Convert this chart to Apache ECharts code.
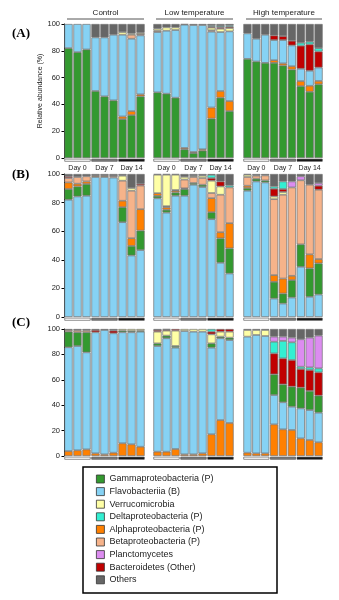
<!DOCTYPE html>
<html>
<head>
<meta charset="utf-8">
<script src="https://cdn.jsdelivr.net/npm/echarts/dist/echarts.min.js"></script>
<style>
  html, body { margin: 0; padding: 0; background: #fff; }
  #chart { width: 339px; height: 600px; }
</style>
</head>
<body>
<div id="chart"></div>
<script>
// Treatments, sampling days and replicate samples (3 per day)
const treatments = ['Control', 'Low temperature', 'High temperature'];
const days = ['Day 0', 'Day 7', 'Day 14'];
const samples = ['D0-1', 'D0-2', 'D0-3', 'D7-1', 'D7-2', 'D7-3', 'D14-1', 'D14-2', 'D14-3'];

const taxa = [
  'Gammaproteobacteria (P)', 'Flavobacteriia (B)', 'Verrucomicrobia',
  'Deltaproteobacteria (P)', 'Alphaproteobacteria (P)', 'Betaproteobacteria (P)',
  'Planctomycetes', 'Bacteroidetes (Other)', 'Others'
];

// Relative abundance (%), 27 samples per array: Control x9, Low temperature x9, High temperature x9
// Panel (A)
const gammaA   = [82, 79, 81, 50, 46, 43, 29, 32, 46,   49, 48, 45, 6.5, 3.7, 5.5, 29.4, 45, 35,   74, 72, 71, 71, 69, 66, 53.6, 49.4, 55];
const flavoA   = [18, 21, 19, 40, 44, 49, 61, 54, 44,   45, 47, 50.5, 92, 94.7, 92.7, 56.6, 44, 52,   19, 17, 21, 15, 17.4, 15.5, 9.2, 11.2, 10];
const verrucoA = [0, 0, 0, 0, 0, 0, 2, 1, 1,            1.5, 2.5, 2, 0, 0, 0, 2, 2.5, 2.5,          0, 0, 0, 0, 0, 0, 0, 0, 0];
const deltaA   = [0, 0, 0, 0, 0, 0, 0, 0, 0,            0, 0, 0, 0, 0, 0, 0.8, 1, 1,                0, 0, 0, 0, 0, 0, 2.2, 2, 2.5];
const alphaA   = [0, 0, 0, 0, 0, 0, 2, 3, 1.5,          0, 0, 0, 1, 0.8, 1, 8.3, 5, 7.5,            0, 0, 0, 2, 1.6, 2.5, 3.8, 4.5, 2.5];
const betaA    = [0, 0, 0, 0, 0, 0, 0, 3, 1,            1, 0, 0, 0, 0, 0, 1, 0, 0,                  0, 0, 0, 0, 0, 0, 0, 0, 0];
const planctA  = [0, 0, 0, 0, 0, 0, 0, 0, 0,            0, 0, 0, 0, 0, 0, 0, 0, 0,                  0, 0, 0, 0, 0, 0, 0, 0, 0];
const bactA    = [0, 0, 0, 0, 0, 0, 0, 0, 0,            0, 0, 0, 0, 0, 0, 0.8, 1, 1,                0, 0, 0, 3.5, 3, 3.5, 17.2, 19.7, 12];
const othersA  = [0, 0, 0, 10, 10, 8, 6, 7, 6.5,        3.5, 2.5, 2.5, 0.5, 0.8, 0.8, 1.1, 1.5, 1,  7, 11, 8, 8.5, 9, 12.5, 14, 13.2, 18];

// Panel (B)
const gammaB   = [7.5, 7, 8.2, 0, 0, 0, 10.5, 6.7, 13.6,     1.7, 2, 2.3, 4.7, 1.2, 1.6, 4.9, 17.1, 17.6,   1.9, 1.9, 1.4, 11.7, 7, 12.2, 15.7, 19.9, 21.8];
const flavoB   = [82, 84.3, 84.8, 97.9, 97.9, 97.5, 66.3, 43, 46.8,   83, 73, 84.8, 84.8, 92.5, 90.9, 68.4, 37.9, 30.4,   88.3, 94.8, 94.1, 12.9, 9.4, 13.6, 35.1, 14.1, 15.7];
const verrucoB = [0, 0, 0, 0, 0, 0, 3.5, 1.9, 0,          12.9, 22, 10.7, 1.9, 0.8, 1.6, 8.6, 5.8, 0,    1.6, 0, 0, 1.9, 1.9, 0, 0, 0, 0];
const deltaB   = [0, 0, 0, 0, 0, 0, 0, 0, 0,              0, 0, 0, 0, 0, 0, 2.2, 0, 1.4,                 0, 0, 0, 1.6, 5.3, 0, 0, 0, 0];
const alphaB   = [4.6, 1.9, 1.8, 0.8, 0.8, 0, 4.5, 5.4, 15,   1.9, 1.7, 1.2, 0.5, 0, 0, 9.8, 4.3, 17.6,    1.6, 0, 0, 4.7, 10.5, 3, 0, 9.8, 3];
const betaB    = [3.1, 4.7, 3.6, 0, 0, 1, 14, 33.2, 16.5,  0, 0.8, 0.5, 6.1, 4.2, 4.7, 3.6, 26.2, 25,     6.1, 2.1, 3.5, 53.1, 58.6, 61.8, 44.8, 48.7, 48.5];
const planctB  = [0, 0, 0, 0, 0, 0, 0, 0, 0,              0, 0, 0, 0, 0, 0, 0, 0, 0,                     0, 0, 0, 0, 0, 4.2, 2.8, 0, 1.9];
const bactB    = [1.2, 0, 0, 0, 0, 0, 0, 0, 1.2,          0, 0, 0, 0, 0, 0, 1.9, 3.5, 0,                 0, 0, 0, 5.4, 2.1, 0, 0, 0, 2.8];
const othersB  = [1.6, 2.1, 1.6, 1.3, 1.3, 1.5, 1.2, 9.8, 6.9,   0.5, 0.5, 0.5, 2, 1.3, 1.2, 0.6, 5.2, 8,   0.5, 1.2, 1, 8.7, 5.2, 5.2, 1.6, 7.5, 6.3];

// Panel (C)
const gammaC   = [12.3, 10.8, 15.8, 0, 0, 0, 1.3, 1, 0.8,   2.1, 2.1, 1.3, 0, 0, 0, 3.4, 1.3, 1.9,       0, 0, 0, 16.3, 14.1, 15.8, 16.3, 15, 13.4];
const flavoC   = [81.7, 82.1, 76.4, 95.3, 97.9, 94, 87.4, 88.2, 90.6,   83.2, 89.3, 79.8, 97.1, 96.6, 95.8, 68.2, 64.4, 65.3,   91.4, 93.2, 92.4, 23.1, 21.3, 18.3, 23.6, 23.6, 23.3];
const verrucoC = [0, 0, 0, 0, 0, 0, 1.3, 1.6, 1.3,        9.2, 3.9, 12.1, 1.6, 2.1, 2.1, 7.1, 3.9, 4.7,  5.2, 3.9, 4.7, 0, 0, 0, 0, 0, 0];
const deltaC   = [0, 0, 0, 0, 0, 0, 0, 0, 0,              0, 0, 0, 0, 0, 0, 2.1, 0, 0,                   0, 0, 0, 9.2, 13.7, 13.9, 1.8, 2.1, 3.1];
const alphaC   = [3.9, 4.5, 5.2, 2.1, 1.3, 2.6, 10, 9.2, 7.3,   3.4, 3.4, 5.5, 1.3, 1.3, 2.1, 17.1, 28.3, 26,   2.6, 2.1, 2.1, 24.9, 21, 20.5, 13.9, 12.6, 10.8];
const betaC    = [1.3, 1.6, 1.5, 0, 0, 0, 0, 0, 0,        0, 0, 0, 0, 0, 0, 0, 0, 0,                     0, 0, 0, 0, 0, 0, 0, 0, 0];
const planctC  = [0, 0, 0, 0, 0, 0, 0, 0, 0,              0, 0, 0, 0, 0, 0, 0, 0, 0,                     0, 0, 0, 4, 3.4, 3.7, 21.6, 23.4, 25.8];
const bactC    = [0, 0, 0, 1.8, 0, 2.1, 0, 0, 0,          1.3, 0.8, 1.3, 0, 0, 0, 2.1, 2.1, 2.1,         0, 0, 0, 16.5, 20.5, 21, 14.7, 16.5, 18.4];
const othersC  = [0.8, 1, 1.1, 0.8, 0.8, 1.3, 0, 0, 0,    0.8, 0.5, 0, 0, 0, 0, 0, 0, 0,                 0.8, 0.8, 0.8, 6, 6, 6.8, 8.1, 6.8, 5.2];

// Colours in taxa order
const taxonColors = ['#33992f', '#86d2f4', '#ffffa6', '#33efd2', '#ff8000', '#f6b38a', '#dc8cf0', '#c00000', '#666666'];
const dayColors = ['#ffffff', '#7c7c7c', '#111111'];

// Each panel: values in taxa order, and the bottom-to-top stacking order (taxa indices)
const panels = [
  { label: '(A)', values: [gammaA, flavoA, verrucoA, deltaA, alphaA, betaA, planctA, bactA, othersA], order: [0, 4, 1, 5, 2, 6, 7, 3, 8] },
  { label: '(B)', values: [gammaB, flavoB, verrucoB, deltaB, alphaB, betaB, planctB, bactB, othersB], order: [1, 0, 4, 5, 2, 7, 3, 6, 8] },
  { label: '(C)', values: [gammaC, flavoC, verrucoC, deltaC, alphaC, betaC, planctC, bactC, othersC], order: [4, 1, 0, 5, 2, 7, 3, 6, 8] }
];

// Layout
const rows = [
  { top: 24, height: 134 },
  { top: 174, height: 143 },
  { top: 329, height: 127 }
];
const cols = [
  { left: 64, width: 81 },
  { left: 153, width: 81 },
  { left: 243, width: 80 }
];
const FONT = 'Liberation Sans, Arial, sans-serif';

const grid = [], xAxis = [], yAxis = [], series = [];

// Stacked bar grids
panels.forEach((panel, r) => {
  treatments.forEach((t, g) => {
    const idx = grid.length;
    grid.push({ left: cols[g].left, width: cols[g].width, top: rows[r].top, height: rows[r].height });
    xAxis.push({ gridIndex: idx, type: 'category', data: samples, show: false });
    yAxis.push({
      gridIndex: idx, type: 'value', min: 0, max: 100, interval: 20, show: g === 0,
      axisLine: { show: true, lineStyle: { color: '#000', width: 1 } },
      axisTick: { show: true, length: 2.5, lineStyle: { color: '#000', width: 1 } },
      axisLabel: { fontSize: 7.5, margin: 4, color: '#222', fontFamily: FONT },
      splitLine: { show: false },
      name: r === 0 ? 'Relative abundance (%)' : '',
      nameLocation: 'middle', nameGap: 20,
      nameTextStyle: { fontSize: 7, color: '#222', fontFamily: FONT }
    });
    panel.order.forEach(k => {
      series.push({
        type: 'bar', name: taxa[k], stack: 'p' + idx,
        xAxisIndex: idx, yAxisIndex: idx,
        barCategoryGap: '8%',
        data: panel.values[k].slice(g * 9, g * 9 + 9).map(v => (v === 0 ? '-' : v)),
        itemStyle: { color: taxonColors[k], borderColor: '#707070', borderWidth: 0.7 }
      });
    });
  });
});

// Day indicator strips under each treatment block
panels.forEach((panel, r) => {
  treatments.forEach((t, g) => {
    const idx = grid.length;
    grid.push({ left: cols[g].left, width: cols[g].width, top: rows[r].top + rows[r].height + 0.8, height: 2.8 });
    xAxis.push({
      gridIndex: idx, type: 'category', data: days,
      axisLine: { show: false }, axisTick: { show: false },
      axisLabel: { show: r === 0, interval: 0, fontSize: 7, margin: 3, color: '#222', fontFamily: FONT }
    });
    yAxis.push({ gridIndex: idx, type: 'value', min: 0, max: 1, show: false });
    series.push({
      type: 'bar', name: 'day', xAxisIndex: idx, yAxisIndex: idx, silent: true,
      barCategoryGap: '3%',
      data: days.map((d, i) => ({ value: 1, itemStyle: { color: dayColors[i] } })),
      itemStyle: { borderColor: '#444', borderWidth: 0.6 }
    });
  });
});

// Treatment headers, panel letters and legend frame
const graphic = [];
treatments.forEach((t, g) => {
  const c = cols[g];
  graphic.push({
    type: 'text', x: c.left + c.width / 2 + 1, y: 9,
    style: { text: t, font: '8px ' + FONT, fill: '#222', textAlign: 'center' }
  });
  graphic.push({
    type: 'line', shape: { x1: c.left + 3, y1: 19, x2: c.left + c.width - 1, y2: 19 },
    style: { stroke: '#555', lineWidth: 1 }
  });
});
const letterY = [27, 168, 316];
panels.forEach((p, r) => {
  graphic.push({
    type: 'text', left: 12, top: letterY[r],
    style: { text: p.label, font: 'bold 13px Liberation Serif, Times New Roman, serif', fill: '#000' }
  });
});
graphic.push({
  type: 'rect', shape: { x: 83, y: 467, width: 194, height: 126 },
  style: { fill: 'none', stroke: '#000', lineWidth: 1.5 }
});

const option = {
  animation: false,
  textStyle: { fontFamily: FONT },
  grid, xAxis, yAxis, series, graphic,
  legend: {
    data: taxa, orient: 'vertical', left: 96, top: 474, padding: 0,
    itemWidth: 8, itemHeight: 8, itemGap: 2.6, itemTextGap: 3, icon: 'rect',
    selectedMode: false,
    itemStyle: { borderColor: '#333', borderWidth: 0.8 },
    textStyle: { fontSize: 9, color: '#222', fontFamily: FONT, lineHeight: 10 }
  }
};

const chart = echarts.init(document.getElementById('chart'), null, { renderer: 'canvas' });
chart.setOption(option);
</script>
</body>
</html>
